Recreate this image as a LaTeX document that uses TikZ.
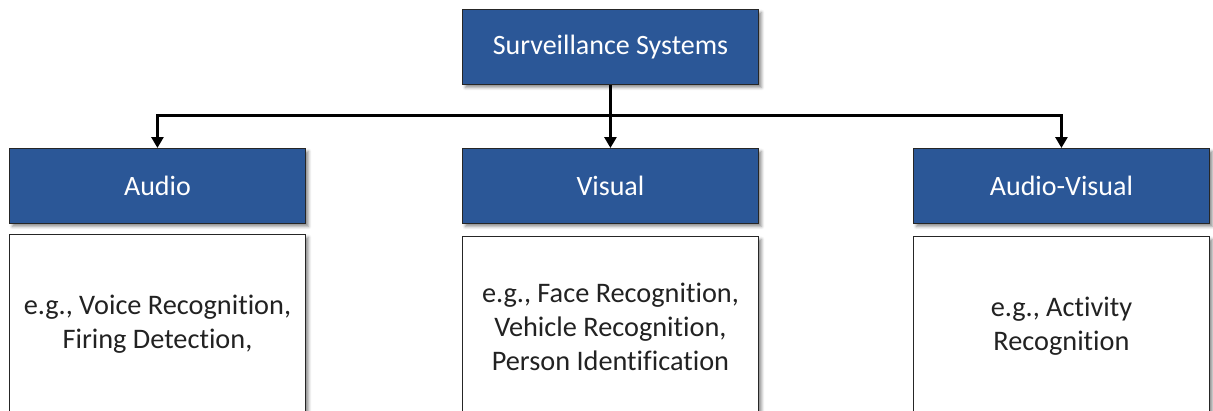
\documentclass[tikz,border=0pt]{standalone}
\usepackage{fontspec}
\setmainfont{Carlito}[Ligatures=NoCommon]
\usetikzlibrary{arrows.meta,shadows.blur}
\definecolor{hdrblue}{HTML}{2B5797}
\definecolor{bodytext}{HTML}{222222}
\begin{document}
\begin{tikzpicture}[x=1pt,y=-1pt,
  boxshadow/.style={blur shadow={shadow xshift=3pt,shadow yshift=-3pt,shadow blur radius=3pt,shadow opacity=45}},
  hdr/.style={draw=black!85,line width=0.9pt,fill=hdrblue,text=white,
    minimum width=296pt,minimum height=75pt,inner sep=0pt,anchor=north west,
    font=\fontsize{28}{33}\selectfont,boxshadow},
  bodybox/.style={draw=black!85,line width=0.9pt,fill=white,text=bodytext,
    minimum width=296pt,minimum height=180pt,inner sep=0pt,anchor=north west,
    align=center,font=\fontsize{28.3}{34}\selectfont,boxshadow},
  conn/.style={line width=3pt,-{Triangle[width=12pt,length=11pt]}}]
\useasboundingbox (0,0) rectangle (1213,410);
\clip (0,0) rectangle (1213,410);

% root
\node[hdr] (sys) at (462,9) {Surveillance Systems};

% category headers
\node[hdr] (aud) at (9,148)   {Audio};
\node[hdr] (vis) at (462,148) {Visual};
\node[hdr] (av)  at (913,148) {Audio-Visual};

% example boxes
\node[bodybox] (audex) at (9,234)   {e.g., Voice Recognition,\\Firing Detection,};
\node[bodybox] (visex) at (462,236) {e.g., Face Recognition,\\Vehicle Recognition,\\Person Identification};
\node[bodybox] (avex)  at (913,236) {e.g., Activity\\Recognition};

% connectors
\coordinate (bus) at (sys.south |- 0,115);
\draw[conn] (sys.south) -- (vis.north);
\draw[conn] (bus) -| (aud.north);
\draw[conn] (bus) -| (av.north);
\end{tikzpicture}
\end{document}
